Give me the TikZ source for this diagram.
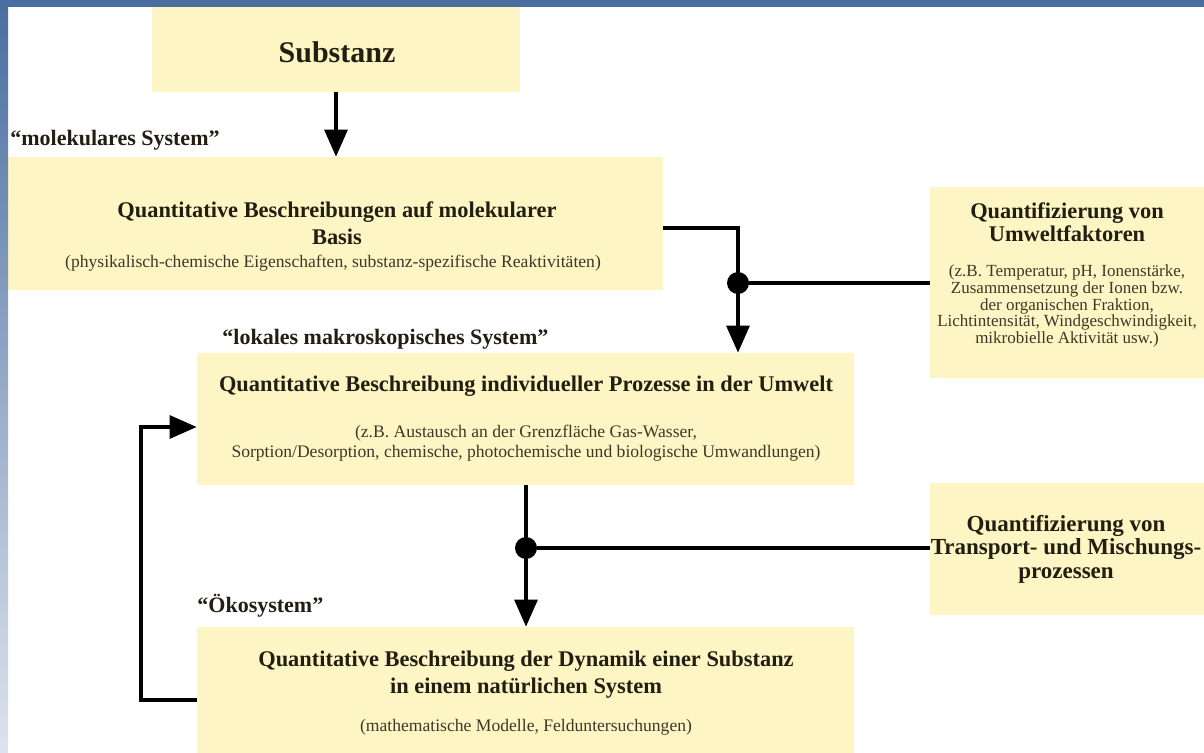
\documentclass[tikz,border=0pt]{standalone}
\usepackage{fontspec}
\setmainfont{Liberation Serif}
\usetikzlibrary{arrows.meta,fit}
\definecolor{boxfill}{RGB}{253,246,196}
\definecolor{ink}{RGB}{35,30,18}
\definecolor{smallink}{RGB}{62,55,40}
\definecolor{bandtop}{RGB}{74,110,160}
\definecolor{bandbot}{RGB}{222,227,237}
\tikzset{
  box/.style={fill=boxfill, draw=none, inner sep=0pt},
  ttl/.style={font=\fontsize{11.2}{13.5}\selectfont\bfseries, text=ink, align=center, inner sep=0pt},
  big/.style={font=\fontsize{15}{17}\selectfont\bfseries, text=ink, align=center, inner sep=0pt},
  sml/.style={font=\fontsize{8.8}{10}\selectfont, text=smallink, align=center, inner sep=0pt},
  lbl/.style={font=\fontsize{11}{13}\selectfont\bfseries, text=ink, anchor=west, inner sep=0pt},
  conn/.style={line width=1.6pt, draw=black},
  arr/.style={conn, -{Triangle[length=13.5pt,width=11.5pt]}},
  dot/.style={circle, fill=black, inner sep=0pt, minimum size=11pt},
}
\begin{document}
\begin{tikzpicture}[x=0.5pt,y=-0.5pt]
\useasboundingbox (0,0) rectangle (1204,753);
\fill[white] (0,0) rectangle (1204,753);
% boxes
\node[box, fit={(152,7) (520,92)}] (sub) {};
\node[box, fit={(8,157) (663,290)}] (b2) {};
\node[box, fit={(197,353) (854,485)}] (b3) {};
\node[box, fit={(197,627) (854,753)}] (b4) {};
\node[box, fit={(930,187) (1204,378)}] (um) {};
\node[box, fit={(930,483) (1204,615)}] (tr) {};
% frame band
\shade[top color=bandtop, bottom color=bandbot] (0,0) rectangle (8,753);
\fill[bandtop] (0,0) rectangle (1204,7);
% texts
\node[big] (subt) at (337,52) {Substanz};
\node[lbl] (l1) at (10,140) {“molekulares System”};
\node[ttl] (b2t) at (337,223) {Quantitative Beschreibungen auf molekularer\\Basis};
\node[sml] (b2s) at (333,263) {(physikalisch-chemische Eigenschaften, substanz-spezifische Reaktivitäten)};
\node[lbl] (l2) at (222,339) {“lokales makroskopisches System”};
\node[ttl] (b3t) at (526,386) {Quantitative Beschreibung individueller Prozesse in der Umwelt};
\node[sml] (b3s) at (526,443) {(z.B. Austausch an der Grenzfläche Gas-Wasser,\\Sorption/Desorption, chemische, photochemische und biologische Umwandlungen)};
\node[lbl] (l3) at (197,606) {“Ökosystem”};
\node[ttl] (b4t) at (526,675) {Quantitative Beschreibung der Dynamik einer Substanz\\in einem natürlichen System};
\node[sml] (b4s) at (526,727) {(mathematische Modelle, Felduntersuchungen)};
\node[ttl, font=\fontsize{11.2}{11.5}\selectfont\bfseries] (umt) at (1067,222) {Quantifizierung von\\Umweltfaktoren};
\node[sml, font=\fontsize{8.5}{8.4}\selectfont] (ums) at (1067,306) {(z.B. Temperatur, pH, Ionenstärke,\\Zusammensetzung der Ionen bzw.\\der organischen Fraktion,\\Lichtintensität, Windgeschwindigkeit,\\mikrobielle Aktivität usw.)};
\node[ttl, font=\fontsize{11.5}{11.8}\selectfont\bfseries] (trt) at (1066,549) {Quantifizierung von\\Transport- und Mischungs-\\prozessen};
% connectors
\coordinate (k1) at (738,228);
\node[dot] (d1) at (738,283) {};
\node[dot] (d2) at (526,548) {};
\coordinate (f1) at (141,700);
\coordinate (f2) at (141,427);
\draw[arr] (sub.south) -- (sub.south |- b2.north);
\draw[arr] (k1 -| b2.east) -- (k1) -- (k1 |- b3.north);
\draw[conn] (d1) -- (d1 -| um.west);
\draw[arr] (b3.south -| d2) -- (d2 |- b4.north);
\draw[conn] (d2) -- (d2 -| tr.west);
\draw[arr] (f1 -| b4.west) -- (f1) -- (f2) -- (f2 -| b3.west);
\end{tikzpicture}
\end{document}
